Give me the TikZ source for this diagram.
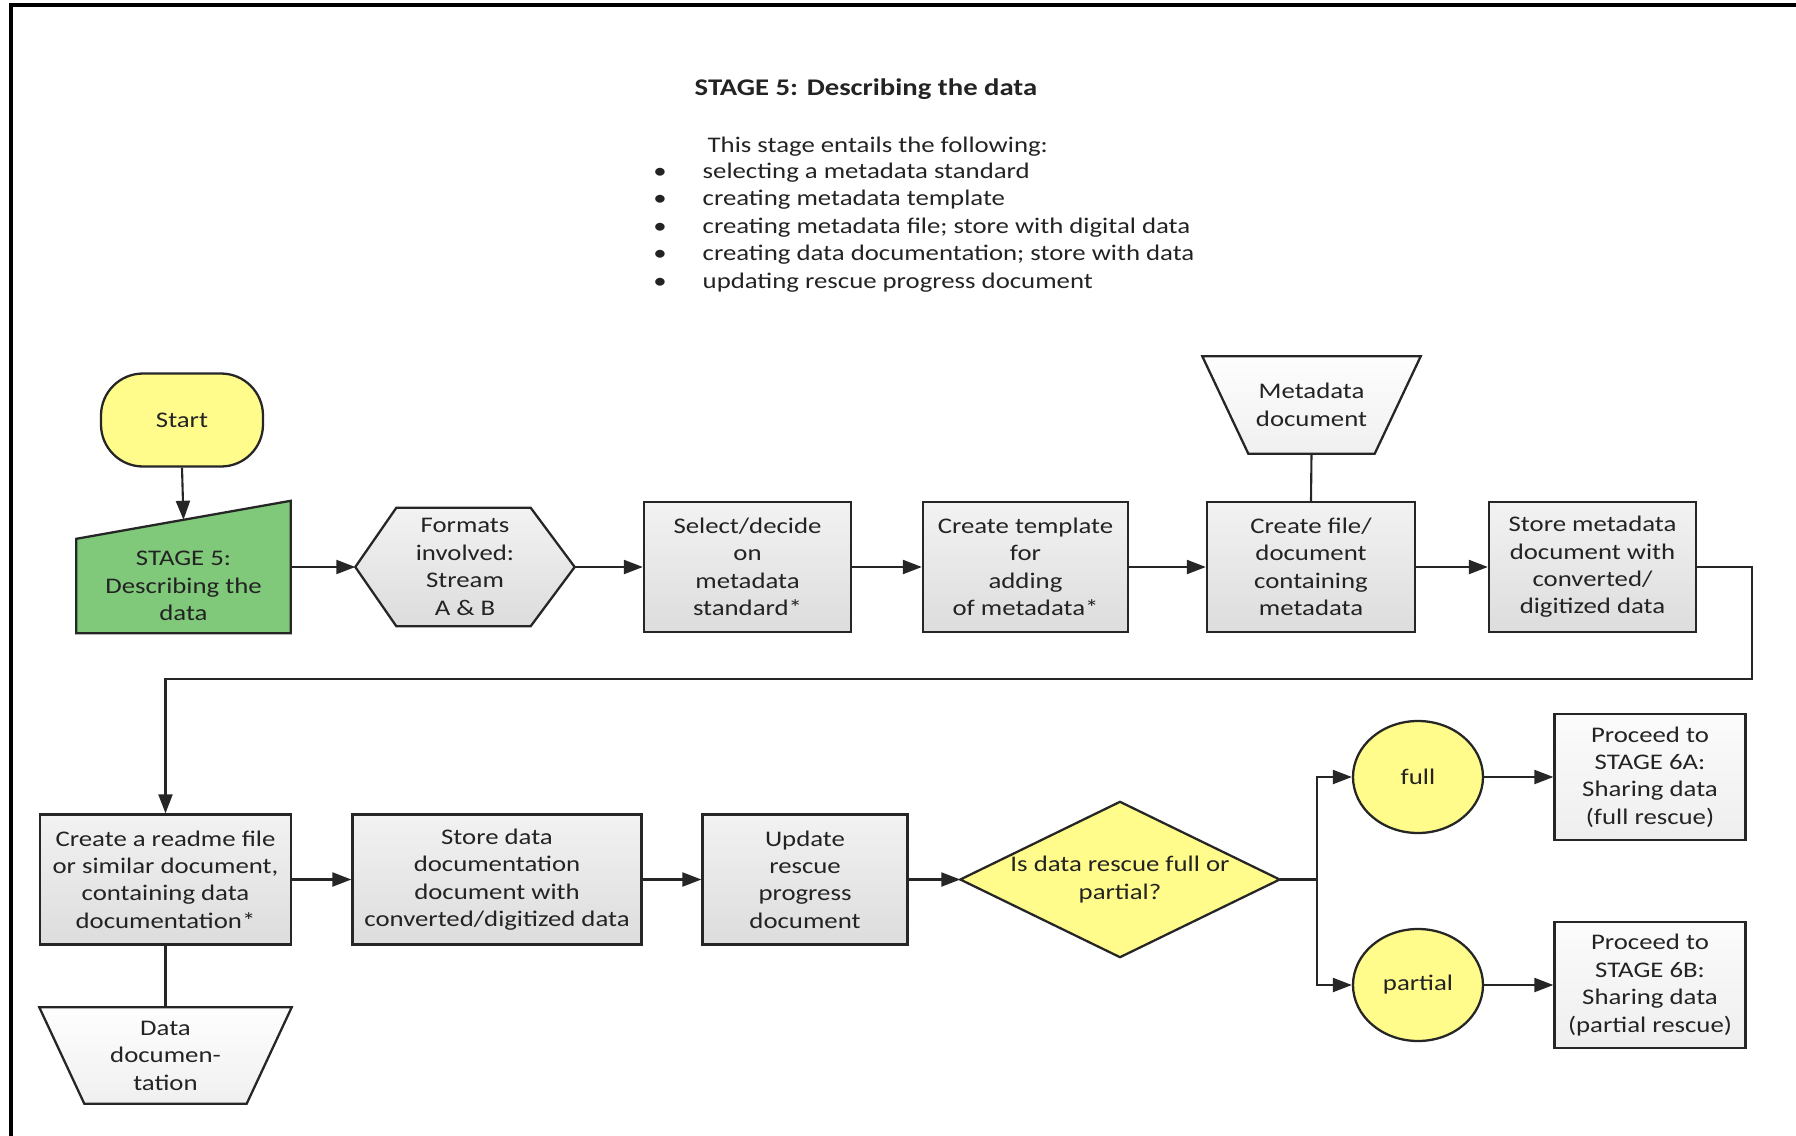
\documentclass[tikz,border=0pt]{standalone}
\usepackage{fontspec}
\setmainfont{Carlito}[FakeStretch=1.2]
\usetikzlibrary{arrows.meta,calc,shapes.geometric,backgrounds}

\definecolor{boxyellow}{RGB}{255,252,140}
\definecolor{stagegreen}{RGB}{128,200,122}
\definecolor{ink}{RGB}{35,35,35}

\begin{document}
\begin{tikzpicture}[x=0.1mm,y=-0.1mm,
    font=\fontsize{6.35}{7.8}\selectfont,
    every node/.style={text=ink,align=center,inner sep=0pt},
    link/.style={draw=black!85,line width=0.6pt},
    arr/.style={link,-{Triangle[length=1.9mm,width=1.4mm]}},
    outline/.style={draw=black!85,line width=0.65pt},
    greyfill/.style={top color=gray!10,bottom color=gray!27},
    procbox/.style={outline,greyfill,minimum height=13mm},
    stopbox/.style={outline,top color=gray!3,bottom color=gray!13,minimum width=19.1mm,minimum height=12.6mm},
    choice/.style={outline,fill=boxyellow,ellipse,minimum width=13mm,minimum height=11.2mm}
]
    %% Page frame
    \useasboundingbox (0,0) rectangle (1796,1136);
    \draw[line width=0.9pt] (11,1136) -- (11,5) -- (1796,5);

    %% Heading with the list of tasks
    \node[anchor=base west,font=\fontsize{6.8}{8}\selectfont\bfseries] (title) at (694,95) {STAGE 5: Describing the data};
    \node[anchor=base west] (intro) at (707,152) {This stage entails the following:};
    \foreach \txt [count=\i] in {selecting a metadata standard,
        creating metadata template,
        creating metadata file; store with digital data,
        creating data documentation; store with data,
        updating rescue progress document}
    {
    \node[anchor=base west] (task\i) at (702,{150.5+27.5*\i}) {\txt};
    \node[anchor=base] (dot\i) at (660,{150.5+27.5*\i}) {\textbullet};
    }

    %% Upper row
    \node[outline,fill=boxyellow,rounded corners=4.2mm,minimum width=16.2mm,minimum height=9.3mm] (start) at (182,420) {Start};
    \node[minimum width=21.3mm,minimum height=13.1mm] (stage) at (183.5,567) {};
    \node (stagetext) at (183.5,586) {STAGE 5:\\Describing the\\data};
    \coordinate (stagetop) at ($(stage.north)+(0,19)$);
    \node[minimum width=21.8mm,minimum height=11.7mm] (hex) at (465,567) {Formats\\involved:\\Stream\\A \& B};
    \node[procbox,minimum width=20.7mm] (select) at (747.5,567) {Select/decide\\on\\metadata\\standard*};
    \node[procbox,minimum width=20.5mm] (templ) at (1025.5,567) {Create template\\for\\adding\\of metadata*};
    \node[procbox,minimum width=20.8mm] (mkfile) at (1311,567) {Create file/\\document\\containing\\metadata};
    \node[procbox,minimum width=20.7mm] (storemeta) at (1592.5,567) {Store metadata\\document with\\converted/\\digitized data};
    \node[minimum width=21.7mm,minimum height=9.6mm] (metadoc) at (1311.5,405) {Metadata\\document};

    %% Lower row
    \node[procbox,minimum width=25.1mm] (readme) at (165.5,879.5) {Create a readme file\\or similar document,\\containing data\\documentation*};
    \node[minimum width=25.1mm,minimum height=9.5mm] (datadoc) at (165.5,1055.5) {Data\\documen-\\tation};
    \node[procbox,minimum width=28.9mm] (storedoc) at (497,879.5) {Store data\\documentation\\document with\\converted/digitized data};
    \node[procbox,minimum width=20.5mm] (update) at (805,879.5) {Update\\rescue\\progress\\document};
    \node[minimum width=31.8mm,minimum height=15.4mm] (dec) at (1120,879.5) {Is data rescue full or\\partial?};
    \node[choice] (full) at (1418,777) {full};
    \node[choice] (partial) at (1418,985) {partial};
    \node[stopbox] (goA) at (1650,777) {Proceed to\\STAGE 6A:\\Sharing data\\(full rescue)};
    \node[stopbox] (goB) at (1650,985) {Proceed to\\STAGE 6B:\\Sharing data\\(partial rescue)};

    %% Shapes that are not plain boxes
    \begin{scope}[on background layer]
    \path[outline,fill=stagegreen] (stage.south west) -- (stage.south east) -- (stage.north east) -- ($(stage.north west)+(0,38)$) -- cycle;
    \path[outline,greyfill] (hex.west) -- ($(hex.north west)+(41,0)$) -- ($(hex.north east)+(-44,0)$) -- (hex.east) -- ($(hex.south east)+(-44,0)$) -- ($(hex.south west)+(41,0)$) -- cycle;
    \path[outline,top color=gray!1,bottom color=gray!12] (metadoc.north west) -- (metadoc.north east) -- ($(metadoc.south east)+(-46,0)$) -- ($(metadoc.south west)+(46,0)$) -- cycle;
    \path[outline,top color=gray!1,bottom color=gray!12] (datadoc.north west) -- (datadoc.north east) -- ($(datadoc.south east)+(-45,0)$) -- ($(datadoc.south west)+(45,0)$) -- cycle;
    \path[outline,fill=boxyellow] (dec.west) -- (dec.north) -- (dec.east) -- (dec.south) -- cycle;
    \end{scope}

    %% Connectors
    \draw[arr] (start.south) -- (stagetop);
    \draw[arr] (stage.east) -- (hex.west);
    \draw[arr] (hex.east) -- (select.west);
    \draw[arr] (select.east) -- (templ.west);
    \draw[arr] (templ.east) -- (mkfile.west);
    \draw[arr] (mkfile.east) -- (storemeta.west);
    \draw[link] (metadoc.south) -- (mkfile.north);

    \coordinate (turn) at (1752,679);
    \draw[arr] (storemeta.east) -| (turn) -| (readme.north);
    \draw[link] (readme.south) -- (datadoc.north);
    \draw[arr] (readme.east) -- (storedoc.west);
    \draw[arr] (storedoc.east) -- (update.west);
    \draw[arr] (update.east) -- (dec.west);

    \coordinate (fork) at (1317,879.5);
    \draw[link] (dec.east) -- (fork);
    \draw[arr] (fork) |- (full.west);
    \draw[arr] (fork) |- (partial.west);
    \draw[arr] (full.east) -- (goA.west);
    \draw[arr] (partial.east) -- (goB.west);

\end{tikzpicture}
\end{document}
